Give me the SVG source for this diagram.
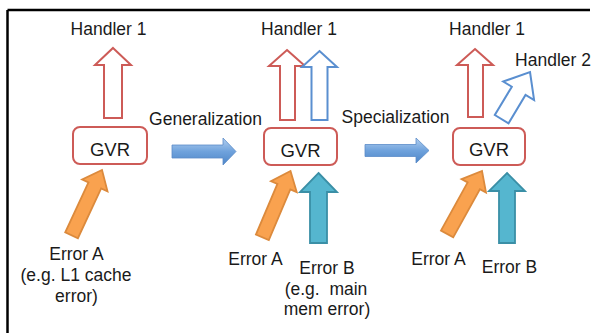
<svg xmlns="http://www.w3.org/2000/svg" width="600" height="333" viewBox="0 0 600 333">
<defs>
<linearGradient id="bg" x1="0" y1="0" x2="0" y2="1">
<stop offset="0" stop-color="#b3d0f0"/>
<stop offset="0.5" stop-color="#6fa2dc"/>
<stop offset="1" stop-color="#4d86c8"/>
</linearGradient>
<style>
text{font-family:"Liberation Sans",Arial,sans-serif;font-size:17.5px;fill:#1a1a1a;text-anchor:middle}
.gvr{font-size:18.5px}
.box{fill:#fff;stroke:#cd5b57;stroke-width:2}
.red{fill:#fff;stroke:#cd5b57;stroke-width:2;stroke-linejoin:miter}
.blue{fill:#fff;stroke:#5a8fd0;stroke-width:2}
.orange{fill:#f9a24f;stroke:#dc8a3c;stroke-width:1.8}
.teal{fill:#55b6cf;stroke:#3a8fa6;stroke-width:1.8}
.flow{fill:url(#bg);stroke:#5a8cc8;stroke-width:0.8}
</style>
</defs>
<rect width="600" height="333" fill="#fff"/>
<g id="frame" fill="none" stroke="#000" stroke-width="2.5">
<line x1="7.5" y1="10" x2="590" y2="10"/>
<line x1="7.5" y1="10" x2="7.5" y2="333"/>
</g>
<g id="connectors">
<path class="red" d="M113,48 L131,65 L122,65 L122,118 L104,118 L104,65 L95,65 Z"/>
<path class="red" d="M287,50 L305,66 L295,66 L295,120 L280,120 L280,66 L269,66 Z"/>
<path class="blue" d="M319.5,51 L337,67 L327.5,67 L327.5,120 L311.5,120 L311.5,67 L302,67 Z"/>
<path class="red" d="M475,49 L493,65 L483,65 L483,117 L468,117 L468,65 L457,65 Z"/>
<path class="blue" transform="translate(530,72) rotate(31)" d="M0,0 L18,22 L8,22 L8,55 L-8,55 L-8,22 L-18,22 Z"/>
<path class="flow" d="M172,145 L223,145 L223,138 L236,151.5 L223,165 L223,158 L172,158 Z"/>
<path class="flow" d="M365,144.5 L416,144.5 L416,138 L429,150.5 L416,163 L416,156.5 L365,156.5 Z"/>
<path class="orange" transform="translate(102,170) rotate(25)" d="M0,0 L14,17 L7,17 L7,72 L-7,72 L-7,17 L-14,17 Z"/>
<path class="orange" transform="translate(290.5,171) rotate(23)" d="M0,0 L14,17 L7,17 L7,72 L-7,72 L-7,17 L-14,17 Z"/>
<path class="orange" transform="translate(482,171) rotate(29)" d="M0,0 L14,17 L7,17 L7,72 L-7,72 L-7,17 L-14,17 Z"/>
<path class="teal" d="M318.5,173 L337,192 L327,192 L327,243 L310,243 L310,192 L300,192 Z"/>
<path class="teal" d="M507,173 L525,191 L515,191 L515,243 L499,243 L499,191 L489,191 Z"/>
</g>
<g id="gvr1"><rect class="box" x="73" y="127" width="74" height="37" rx="7"/><text class="gvr" x="110" y="156">GVR</text></g>
<g id="gvr2"><rect class="box" x="264" y="128" width="73" height="37" rx="7"/><text class="gvr" x="300.5" y="157">GVR</text></g>
<g id="gvr3"><rect class="box" x="453" y="128" width="72" height="37" rx="7"/><text class="gvr" x="489" y="156">GVR</text></g>
<g id="handler1a"><text x="108.5" y="35">Handler 1</text></g>
<g id="handler1b"><text x="299" y="35">Handler 1</text></g>
<g id="handler1c"><text x="487" y="35">Handler 1</text></g>
<g id="handler2"><text x="553" y="66">Handler 2</text></g>
<g id="generalization"><text x="205.5" y="125">Generalization</text></g>
<g id="specialization"><text x="395.5" y="123">Specialization</text></g>
<g id="errorA1"><text x="76.5" y="260">Error A</text><text x="76" y="281">(e.g. L1 cache</text><text x="76.5" y="302">error)</text></g>
<g id="errorA2"><text x="255.5" y="265">Error A</text></g>
<g id="errorB2"><text x="327" y="274">Error B</text><text x="326" y="295" xml:space="preserve">(e.g.  main</text><text x="327" y="315">mem error)</text></g>
<g id="errorA3"><text x="438.5" y="265">Error A</text></g>
<g id="errorB3"><text x="509.5" y="273">Error B</text></g>
</svg>
